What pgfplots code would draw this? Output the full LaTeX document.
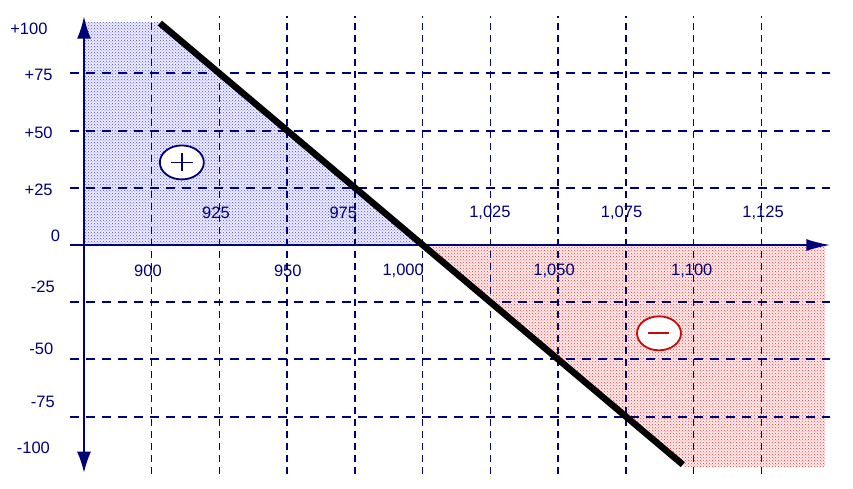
\documentclass[border=0pt]{standalone}
\usepackage{fontspec}
\setmainfont{Liberation Sans}
\usepackage{pgfplots}
\pgfplotsset{compat=1.18}
\usetikzlibrary{patterns,arrows.meta}
\definecolor{navy}{RGB}{0,0,120}
\definecolor{minusred}{RGB}{200,10,10}

\begin{document}
\begin{tikzpicture}[lbl/.style={font=\fontsize{16.5}{18}\selectfont, text=navy, inner sep=0pt}]
\begin{axis}[
  set layers,
  x=2.71pt, y=2.288pt,
  xmin=870, xmax=1150.4, ymin=-100, ymax=100,
  axis line style={draw=none},
  xtick={900,925,...,1125},
  ytick={-75,-50,-25,25,50,75},
  xticklabels={}, yticklabels={},
  major tick length=0pt,
  grid=major,
  major x grid style={navy, line width=1.5pt, dash pattern=on 7pt off 5pt},
  major y grid style={navy, line width=1.9pt, dash pattern=on 9pt off 7pt},
  clip=false,
]
% shaded regions
\addplot[draw=none, fill=blue!7, on layer=axis background,
  postaction={pattern=crosshatch dots, pattern color=blue!70}]
  coordinates {(875,0) (875,97.4) (902.6,97.4) (1000,0)} -- cycle;
\addplot[draw=none, fill=red!7, on layer=axis background,
  postaction={pattern=crosshatch dots, pattern color=red!80}]
  coordinates {(1000,0) (1148.5,0) (1148.5,-97) (1097,-97)} -- cycle;

% axes
\draw[navy, line width=1.8pt, -{Latex[length=24pt,width=12pt]}]
  (axis cs:870,0) -- (axis cs:1150.4,0);
\draw[navy, line width=1.5pt, {Latex[length=21pt,width=14pt]}-{Latex[length=22pt,width=14pt]}]
  (axis cs:875,-99.5) -- (axis cs:875,99.8);

% the line
\addplot[black, line width=6.5pt, line cap=butt] coordinates {(903,97) (1096,-96)};

% y labels
\node[lbl, anchor=east] at (axis cs:861.6,94.4) {+100};
\node[lbl, anchor=east] at (axis cs:863.5,74.4) {+75};
\node[lbl, anchor=east] at (axis cs:863.5,49.1) {+50};
\node[lbl, anchor=east] at (axis cs:863.5,24) {+25};
\node[lbl, anchor=east] at (axis cs:866.2,3.9) {0};
\node[lbl, anchor=east] at (axis cs:864.3,-18.2) {-25};
\node[lbl, anchor=east] at (axis cs:863.7,-45.5) {-50};
\node[lbl, anchor=east] at (axis cs:864.3,-68.5) {-75};
\node[lbl, anchor=east] at (axis cs:862.5,-88.7) {-100};

% x labels
\node[lbl] at (axis cs:898.6,-11.4) {900};
\node[lbl] at (axis cs:923.7,14.2) {925};
\node[lbl] at (axis cs:950.2,-11.4) {950};
\node[lbl] at (axis cs:970.7,14.2) {975};
\node[lbl] at (axis cs:992.8,-11.4) {1,000};
\node[lbl] at (axis cs:1024.8,14.2) {1,025};
\node[lbl] at (axis cs:1048.5,-11.4) {1,050};
\node[lbl] at (axis cs:1073.4,14.2) {1,075};
\node[lbl] at (axis cs:1099.3,-11.4) {1,100};
\node[lbl] at (axis cs:1125.6,14.2) {1,125};

\coordinate (plus) at (axis cs:911.1,36.1);
\coordinate (minus) at (axis cs:1087.2,-38.6);
\coordinate (bbl) at (axis cs:844,-106.6);
\coordinate (btr) at (axis cs:1158.8,107.1);
\end{axis}

% sign markers
\draw[navy, line width=1.8pt, fill=white] (plus) ellipse [x radius=22pt, y radius=17pt];
\draw[navy, line width=1.8pt] ([xshift=-11pt]plus) -- ([xshift=11pt]plus)
  ([yshift=-9pt]plus) -- ([yshift=9pt]plus);
\draw[minusred, line width=1.8pt, fill=white] (minus) ellipse [x radius=22pt, y radius=17pt];
\draw[minusred, line width=1.8pt] ([xshift=-10.5pt]minus) -- ([xshift=10.5pt]minus);

% page extent
\path (bbl) rectangle (btr);
\end{tikzpicture}
\end{document}
